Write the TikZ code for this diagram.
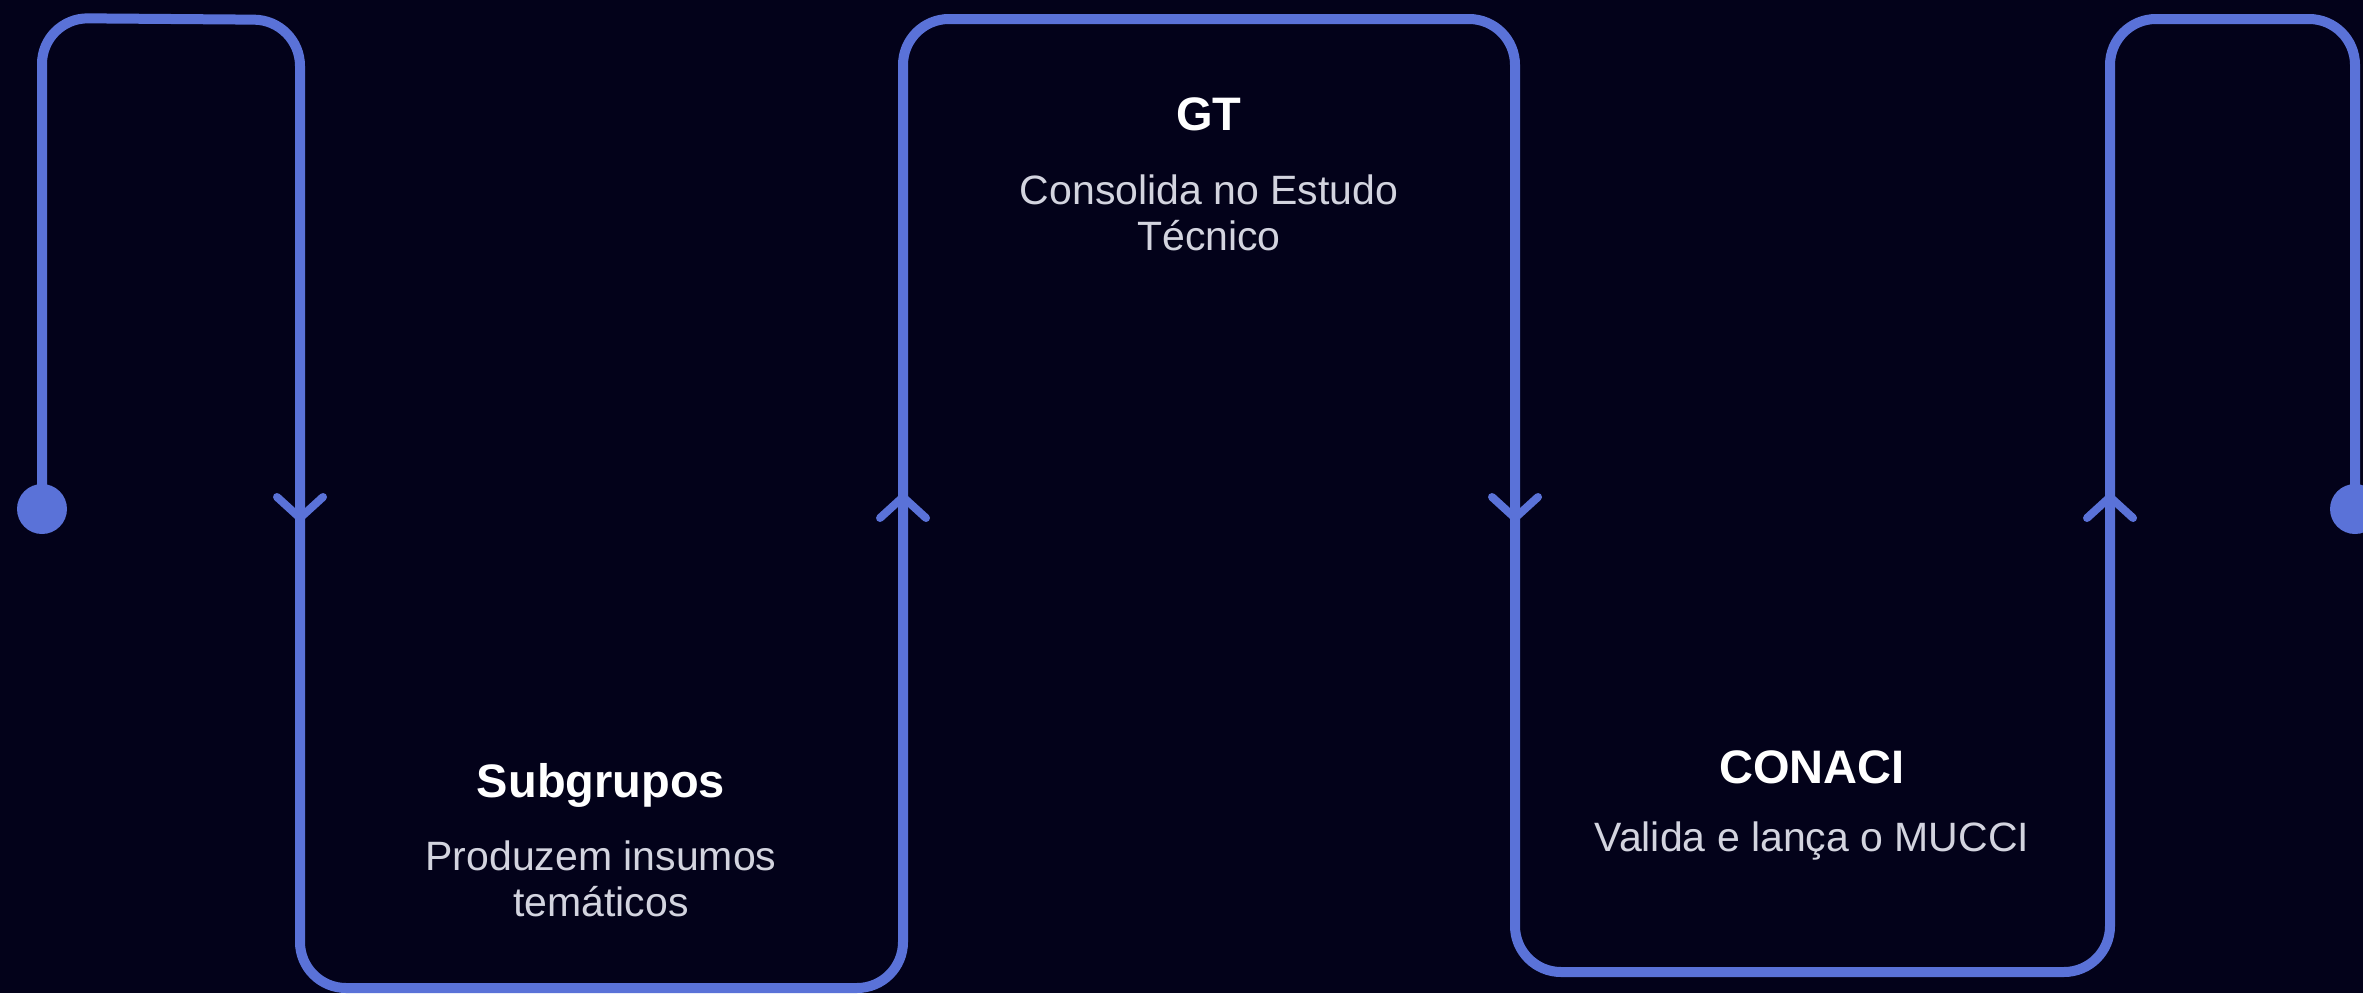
\documentclass[tikz,border=0pt]{standalone}
\usepackage{fontspec}
\setmainfont{Liberation Sans}
\usetikzlibrary{positioning}
\definecolor{night}{HTML}{03021A}
\definecolor{flowblue}{HTML}{5A72D8}
\definecolor{softgray}{HTML}{D3D4DF}

\begin{document}
\begin{tikzpicture}[
  x=1pt, y=-1pt,
  track/.style={draw=flowblue, line width=10pt, rounded corners=46pt},
  chevron/.style={draw=flowblue, line width=8pt, line cap=round, line join=round},
  stagetitle/.style={font=\fontsize{47}{52}\selectfont\bfseries, text=white,
                     anchor=base, inner sep=0pt},
  stagedesc/.style={font=\fontsize{41}{46}\selectfont, text=softgray,
                    align=center, anchor=base, inner sep=0pt},
]
  % Canvas
  \fill[night] (0,0) rectangle (2363,993);
  \useasboundingbox (0,0) rectangle (2363,993);

  % Corners of the serpentine track
  \coordinate (s0) at (42,509);
  \coordinate (s1) at (42,18);
  \coordinate (s2) at (300,20);
  \coordinate (s3) at (300,988);
  \coordinate (s4) at (903,988);
  \coordinate (s5) at (903,19);
  \coordinate (s6) at (1515,19);
  \coordinate (s7) at (1515,972);
  \coordinate (s8) at (2110,972);
  \coordinate (s9) at (2110,19);
  \coordinate (s10) at (2355,19);
  \coordinate (s11) at (2355,509);

  \draw[track] (s0) -- (s1) -- (s2) -- (s3) -- (s4) -- (s5) -- (s6)
    -- (s7) -- (s8) -- (s9) -- (s10) -- (s11);
  \fill[flowblue] (s0) circle (25pt);
  \fill[flowblue] (s11) circle (25pt);

  % Direction marks --- down, up, down, up
  \coordinate (d1) at (300,518);
  \coordinate (u1) at (903,497);
  \coordinate (d2) at (1515,518);
  \coordinate (u2) at (2110,497);
  \draw[chevron] ([shift={(-23,-21)}]d1) -- (d1) -- ([shift={(23,-21)}]d1);
  \draw[chevron] ([shift={(-23,21)}]u1) -- (u1) -- ([shift={(23,21)}]u1);
  \draw[chevron] ([shift={(-23,-21)}]d2) -- (d2) -- ([shift={(23,-21)}]d2);
  \draw[chevron] ([shift={(-23,21)}]u2) -- (u2) -- ([shift={(23,21)}]u2);

  % Stages (a two-line text sits on its last baseline)
  \node[stagetitle] (subgrupos) at (601,797) {Subgrupos};
  \node[stagedesc] (subgruposdesc) at ([yshift=-119pt]subgrupos.base)
    {Produzem insumos\\temáticos};

  \node[stagetitle] (gt) at (1209,130) {GT};
  \node[stagedesc] (gtdesc) at ([yshift=-120pt]gt.base)
    {Consolida no Estudo\\Técnico};

  \node[stagetitle] (conaci) at (1812,783) {CONACI};
  \node[stagedesc] (conacidesc) at ([yshift=-68pt]conaci.base)
    {Valida e lança o MUCCI};
\end{tikzpicture}
\end{document}
